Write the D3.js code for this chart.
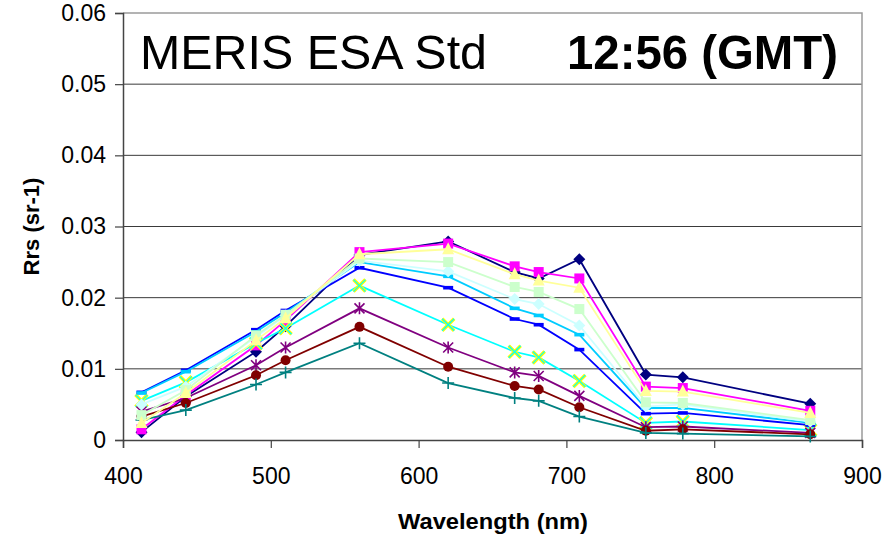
<!DOCTYPE html>
<html>
<head>
<meta charset="utf-8">
<script src="https://cdn.jsdelivr.net/npm/d3@7"></script>
<style>
  body { margin: 0; background: #fff; }
  svg { font-family: "Liberation Sans", Arial, sans-serif; }
</style>
</head>
<body>
<script>
// MERIS band centres (nm)
const wavelengths = [412.5, 442.5, 490, 510, 560, 620, 665, 681.25, 708.75, 753.75, 778.75, 865];

// Rrs values (sr-1), one array per station
const navyDiamond   = [0.0011, 0.0061, 0.0124, 0.0160, 0.0260, 0.0279, 0.0236, 0.0227, 0.0254, 0.0092, 0.0088, 0.0051];
const magentaSquare = [0.0015, 0.0063, 0.0133, 0.0168, 0.0264, 0.0276, 0.0244, 0.0236, 0.0227, 0.0075, 0.0073, 0.0041];
const cyanCross     = [0.0055, 0.0081, 0.0136, 0.0157, 0.0217, 0.0162, 0.0124, 0.0116, 0.0083, 0.0024, 0.0026, 0.0014];
const purpleStar    = [0.0040, 0.0059, 0.0105, 0.0130, 0.0185, 0.0130, 0.0095, 0.0090, 0.0062, 0.0018, 0.0019, 0.0010];
const redCircle     = [0.0033, 0.0052, 0.0091, 0.0112, 0.0159, 0.0103, 0.0076, 0.0071, 0.0046, 0.0013, 0.0015, 0.0008];
const tealPlus      = [0.0028, 0.0042, 0.0078, 0.0095, 0.0136, 0.0080, 0.0059, 0.0055, 0.0033, 0.0010, 0.0009, 0.0005];
const blueDash      = [0.0067, 0.0098, 0.0155, 0.0182, 0.0242, 0.0214, 0.0170, 0.0162, 0.0127, 0.0037, 0.0038, 0.0021];
const skyDash       = [0.0066, 0.0096, 0.0152, 0.0179, 0.0250, 0.0230, 0.0185, 0.0175, 0.0148, 0.0045, 0.0045, 0.0024];
const paleDiamond   = [0.0050, 0.0075, 0.0145, 0.0175, 0.0252, 0.0237, 0.0198, 0.0191, 0.0161, 0.0047, 0.0050, 0.0026];
const mintSquare    = [0.0035, 0.0070, 0.0147, 0.0176, 0.0255, 0.0250, 0.0215, 0.0208, 0.0184, 0.0053, 0.0052, 0.0028];
const lemonTriangle = [0.0024, 0.0066, 0.0140, 0.0171, 0.0261, 0.0268, 0.0233, 0.0224, 0.0214, 0.0069, 0.0068, 0.0038];

const xTicks = [400, 500, 600, 700, 800, 900];
const yTicks = [0, 0.01, 0.02, 0.03, 0.04, 0.05, 0.06];

const series = [
  { values: navyDiamond,   color: "#000080", marker: "diamond", fill: "#000080" },
  { values: magentaSquare, color: "#FF00FF", marker: "square",  fill: "#FF00FF" },
  { values: cyanCross,     color: "#00FFFF", marker: "x",       fill: "#FFFF00" },
  { values: purpleStar,    color: "#800080", marker: "star",    fill: "#800080" },
  { values: redCircle,     color: "#800000", marker: "circle",  fill: "#800000" },
  { values: tealPlus,      color: "#008080", marker: "plus",    fill: "#008080" },
  { values: blueDash,      color: "#0000FF", marker: "dash",    fill: "#0000FF" },
  { values: skyDash,       color: "#00CCFF", marker: "dash",    fill: "#00CCFF" },
  { values: paleDiamond,   color: "#CCFFFF", marker: "diamond", fill: "#CCFFFF" },
  { values: mintSquare,    color: "#CCFFCC", marker: "square",  fill: "#CCFFCC" },
  { values: lemonTriangle, color: "#FFFF99", marker: "triangle",fill: "#FFFF99" }
];

const width = 886, height = 537;
const margin = { left: 123, right: 24, top: 13, bottom: 97 };

const svg = d3.select("body").append("svg")
  .attr("width", width)
  .attr("height", height);

const x = d3.scaleLinear().domain([400, 900]).range([margin.left, width - margin.right]);
const y = d3.scaleLinear().domain([0, 0.06]).range([height - margin.bottom, margin.top]);

// gridlines
svg.append("g")
  .selectAll("line")
  .data(yTicks.filter(d => d > 0 && d < 0.06))
  .enter().append("line")
  .attr("x1", x(400)).attr("x2", x(900))
  .attr("y1", d => y(d)).attr("y2", d => y(d))
  .attr("stroke", "#3a3a3a")
  .attr("stroke-width", 1);

// plot border (top & right)
svg.append("path")
  .attr("d", `M${x(400)},${y(0.06)}H${x(900)}V${y(0)}`)
  .attr("fill", "none")
  .attr("stroke", "#9a9a9a")
  .attr("stroke-width", 1.5);

// title box text
svg.append("rect")
  .attr("x", 130).attr("y", 22).attr("width", 715).attr("height", 55)
  .attr("fill", "#fff");
svg.append("text")
  .attr("x", 140).attr("y", 69)
  .attr("font-size", 49)
  .attr("textLength", 347)
  .attr("lengthAdjust", "spacingAndGlyphs")
  .text("MERIS ESA Std");
svg.append("text")
  .attr("x", 567).attr("y", 69)
  .attr("font-size", 49)
  .attr("font-weight", "bold")
  .attr("textLength", 271)
  .attr("lengthAdjust", "spacingAndGlyphs")
  .text("12:56 (GMT)");

// axes
const yAxis = svg.append("g")
  .attr("transform", `translate(${x(400)},0)`)
  .call(d3.axisLeft(y).tickValues(yTicks).tickSize(8).tickPadding(9)
    .tickFormat(d => d === 0 ? "0" : d3.format(".2f")(d)));
const xAxis = svg.append("g")
  .attr("transform", `translate(0,${y(0)})`)
  .call(d3.axisBottom(x).tickValues(xTicks).tickSize(8).tickPadding(20));

[yAxis, xAxis].forEach(g => {
  g.select(".domain").attr("stroke", "#444").attr("stroke-width", 1.5);
  g.selectAll(".tick line").attr("stroke", "#444").attr("stroke-width", 1.2);
  g.selectAll(".tick text")
    .attr("font-size", 23)
    .attr("font-family", "Liberation Sans, Arial, sans-serif")
    .attr("fill", "#000");
});

// axis titles
svg.append("text")
  .attr("x", 493).attr("y", 529)
  .attr("text-anchor", "middle")
  .attr("font-size", 22)
  .attr("font-weight", "bold")
  .attr("textLength", 190)
  .attr("lengthAdjust", "spacingAndGlyphs")
  .text("Wavelength (nm)");
svg.append("text")
  .attr("transform", `translate(39,${y(0.03)}) rotate(-90)`)
  .attr("text-anchor", "middle")
  .attr("font-size", 22)
  .attr("font-weight", "bold")
  .text("Rrs (sr-1)");

// series lines
const line = d3.line()
  .x((d, i) => x(wavelengths[i]))
  .y(d => y(d));

function drawMarker(g, s) {
  const m = s.marker;
  if (m === "diamond") {
    g.append("path").attr("d", "M0,-6L6,0L0,6L-6,0Z").attr("fill", s.fill);
  } else if (m === "square") {
    g.append("rect").attr("x", -5).attr("y", -5).attr("width", 10).attr("height", 10).attr("fill", s.fill);
  } else if (m === "triangle") {
    g.append("path").attr("d", "M0,-7L6,5L-6,5Z").attr("fill", s.fill);
  } else if (m === "circle") {
    g.append("circle").attr("r", 5).attr("fill", s.fill);
  } else if (m === "dash") {
    g.append("rect").attr("x", -5).attr("y", -1.8).attr("width", 10).attr("height", 3.6).attr("fill", s.fill);
  } else if (m === "x") {
    g.append("path").attr("d", "M-6,-6L6,6M-6,6L6,-6").attr("stroke", s.fill).attr("stroke-width", 3.5);
    g.append("path").attr("d", "M-6,-6L6,6M-6,6L6,-6").attr("stroke", s.color).attr("stroke-width", 1.2);
  } else if (m === "star") {
    g.append("path").attr("d", "M-5,-5L5,5M-5,5L5,-5M0,-6V6")
      .attr("stroke", s.fill).attr("stroke-width", 1.6);
  } else if (m === "plus") {
    g.append("path").attr("d", "M-6,0H6M0,-6V6")
      .attr("stroke", s.fill).attr("stroke-width", 1.6);
  }
}

series.forEach(s => {
  const g = svg.append("g");
  g.append("path")
    .datum(s.values)
    .attr("d", line)
    .attr("fill", "none")
    .attr("stroke", s.color)
    .attr("stroke-width", 1.8);
  g.selectAll("g.mk")
    .data(s.values)
    .enter().append("g")
    .attr("class", "mk")
    .attr("transform", (d, i) => `translate(${x(wavelengths[i])},${y(d)})`)
    .each(function () { drawMarker(d3.select(this), s); });
});
</script>
</body>
</html>
